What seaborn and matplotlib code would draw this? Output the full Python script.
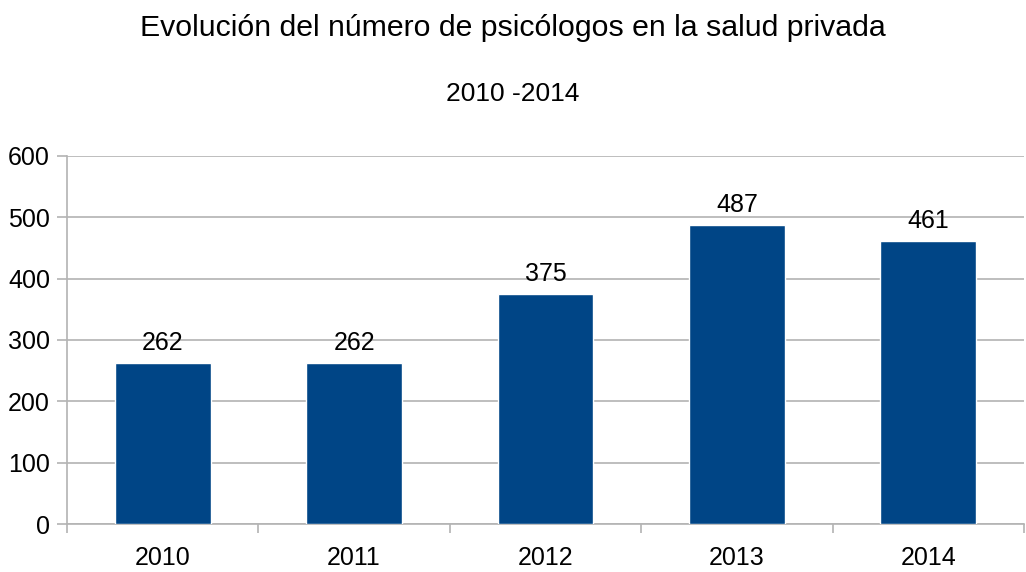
import matplotlib
matplotlib.use("Agg")
import matplotlib.pyplot as plt
import seaborn as sns
import pandas as pd
import numpy as np

years = ["2010", "2011", "2012", "2013", "2014"]
values = [262, 262, 375, 487, 461]
title = "Evolución del número de psicólogos en la salud privada"
subtitle = "2010 -2014"
yticks = [0, 100, 200, 300, 400, 500, 600]

sns.set_style("white")
plt.rcParams['font.family'] = ['Liberation Sans', 'DejaVu Sans']
plt.rcParams['text.color'] = 'black'

df = pd.DataFrame({"year": years, "value": values})

fig = plt.figure(figsize=(10.26, 5.72), dpi=100)
ax = fig.add_axes([67/1026, 1 - 524/572, (1024 - 67)/1026, (524 - 156)/572])

sns.barplot(data=df, x="year", y="value", color="#004586", width=0.5,
            saturation=1, ax=ax, zorder=3)

grid_c = "#b3b3b3"
ax.set_ylim(0, 600)
ax.set_xlim(-0.5, 4.5)
ax.set_yticks(yticks)
ax.yaxis.grid(True, color=grid_c, linewidth=1.2, zorder=0)
ax.xaxis.grid(False)
for s in ["top", "right"]:
    ax.spines[s].set_visible(False)
for s in ["left", "bottom"]:
    ax.spines[s].set_color(grid_c)
    ax.spines[s].set_linewidth(1.2)

ax.tick_params(axis="y", length=7.2, width=1.2, color=grid_c, labelsize=18,
               labelcolor="black", pad=5, left=True)
ax.tick_params(axis="x", which="major", length=0, labelsize=18,
               labelcolor="black", pad=16)
ax.set_xticks(np.arange(-0.5, 5.0, 1.0), minor=True)
ax.tick_params(axis="x", which="minor", length=6.5, width=1.2, color=grid_c,
               bottom=True)
ax.set_xlabel("")
ax.set_ylabel("")

for c in ax.containers:
    ax.bar_label(c, labels=[str(v) for v in values], padding=6, fontsize=18,
                 color="black")

fig.text(0.5, 1 - 28/572, title, ha="center", va="center", fontsize=21.8,
         color="black")
fig.text(0.5, 1 - 94/572, subtitle, ha="center", va="center", fontsize=19,
         color="black")

fig.savefig("out.png", dpi=100)
